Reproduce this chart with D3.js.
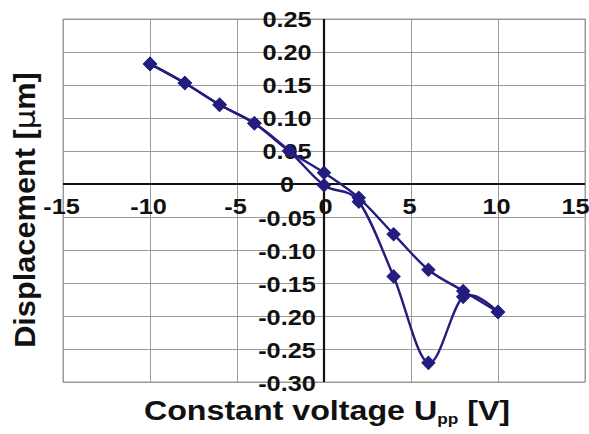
<!DOCTYPE html>
<html>
<head>
<meta charset="utf-8">
<script src="https://cdn.jsdelivr.net/npm/d3@7"></script>
<style>
  html, body { margin: 0; padding: 0; background: #fff; }
  svg { display: block; }
  text { font-family: "Liberation Sans", Arial, sans-serif; font-weight: bold; fill: #111; }
</style>
</head>
<body>
<svg id="chart" width="589" height="434"></svg>
<script>
// ---- data ----
const xTicks = [-15, -10, -5, 0, 5, 10, 15];
const yTicks = [0.25, 0.20, 0.15, 0.10, 0.05, 0, -0.05, -0.10, -0.15, -0.20, -0.25, -0.30];
// increasing voltage sweep
const voltageUp = [-10, -8, -6, -4, -2, 0, 2, 4, 6, 8, 10];
const dispUp    = [0.182, 0.153, 0.120, 0.092, 0.050, -0.002, -0.027, -0.140, -0.271, -0.171, -0.194];
// decreasing voltage sweep
const voltageDown = [10, 8, 6, 4, 2, 0, -2, -4, -6, -8, -10];
const dispDown    = [-0.194, -0.162, -0.130, -0.076, -0.021, 0.017, 0.050, 0.092, 0.120, 0.153, 0.182];
const xTitle = "Constant voltage U";
const xTitleSub = "pp";
const xTitleEnd = " [V]";

// ---- layout ----
const svg = d3.select("#chart");
const L = 63, R = 585, T = 19, B = 382;
const x = d3.scaleLinear().domain([-15, 15]).range([L, R]);
const y = d3.scaleLinear().domain([-0.30, 0.25]).range([B, T]);
const color = "#221d7e";
const sx = 1.15; // horizontal stretch of the reference lettering
const hy = s => s.replace("\u2212", "-");

// gridlines
svg.append("g")
  .attr("transform", `translate(0,${B})`)
  .call(d3.axisBottom(x).tickValues(xTicks).tickSize(-(B - T)).tickFormat(""))
  .call(g => g.select(".domain").remove())
  .call(g => g.selectAll("line").attr("stroke", "#9a9a9a").attr("stroke-width", 1));
svg.append("g")
  .attr("transform", `translate(${L},0)`)
  .call(d3.axisLeft(y).tickValues(yTicks).tickSize(-(R - L)).tickFormat(""))
  .call(g => g.select(".domain").remove())
  .call(g => g.selectAll("line").attr("stroke", "#9a9a9a").attr("stroke-width", 1));
svg.append("rect")
  .attr("x", L).attr("y", T).attr("width", R - L).attr("height", B - T)
  .attr("fill", "none").attr("stroke", "#9a9a9a").attr("stroke-width", 1);

// zero axes
svg.append("line").attr("x1", L).attr("x2", R).attr("y1", y(0)).attr("y2", y(0))
  .attr("stroke", "#111").attr("stroke-width", 2.2);
svg.append("line").attr("x1", x(0)).attr("x2", x(0)).attr("y1", T).attr("y2", B)
  .attr("stroke", "#111").attr("stroke-width", 2.2);

// y tick labels (centered left of the y axis)
svg.append("g")
  .attr("transform", `translate(${x(0)},0)`)
  .call(d3.axisLeft(y).tickValues(yTicks).tickSize(0)
    .tickFormat(d => d === 0 ? "0" : hy(d3.format(".2f")(d))))
  .call(g => g.select(".domain").remove())
  .call(g => g.selectAll("text")
    .attr("x", 0).attr("dy", "0.36em")
    .attr("text-anchor", "middle")
    .attr("font-size", 22)
    .attr("transform", d => `translate(-37,${d < 0 ? 1 : 0}) scale(${sx},1)`));

// x tick labels
svg.append("g")
  .attr("transform", `translate(0,${y(0)})`)
  .call(d3.axisBottom(x).tickValues(xTicks).tickSize(0).tickFormat(d => hy(d3.format("d")(d))))
  .call(g => g.select(".domain").remove())
  .call(g => g.selectAll("text")
    .attr("y", 0).attr("dy", "0.36em")
    .attr("text-anchor", "middle")
    .attr("font-size", 22)
    .attr("transform", d => `translate(${d === 15 ? -10 : (d === 0 ? 1 : -2)},22) scale(${sx},1)`));

// series
const line = d3.line().x(d => x(d[0])).y(d => y(d[1])).curve(d3.curveCatmullRom.alpha(0));
const up = voltageUp.map((v, i) => [v, dispUp[i]]);
const down = voltageDown.map((v, i) => [v, dispDown[i]]);
[up, down].forEach(s => {
  svg.append("path").datum(s).attr("d", line)
    .attr("fill", "none").attr("stroke", color).attr("stroke-width", 2.4);
});
const diamond = d3.symbol().type(d3.symbolDiamond2).size(135);
[up, down].forEach(s => {
  svg.append("g").selectAll("path").data(s).join("path")
    .attr("d", diamond)
    .attr("transform", d => `translate(${x(d[0])},${y(d[1])})`)
    .attr("fill", color);
});

// axis titles
const xt = svg.append("text")
  .attr("text-anchor", "middle")
  .attr("font-size", 28)
  .attr("transform", `translate(327,420) scale(${sx},1)`);
xt.append("tspan").text(xTitle);
xt.append("tspan").attr("font-size", 15).attr("dy", 4).text(xTitleSub);
xt.append("tspan").attr("dy", -4).text(xTitleEnd);

const yt = svg.append("text")
  .attr("text-anchor", "middle")
  .attr("font-size", 29)
  .attr("transform", `translate(35,210) rotate(-90) scale(1.06,1)`);
yt.append("tspan").text("Displacement [");
yt.append("tspan").attr("font-weight", "normal").attr("font-family", "DejaVu Sans").text("\u00B5");
yt.append("tspan").text("m]");
</script>
</body>
</html>
